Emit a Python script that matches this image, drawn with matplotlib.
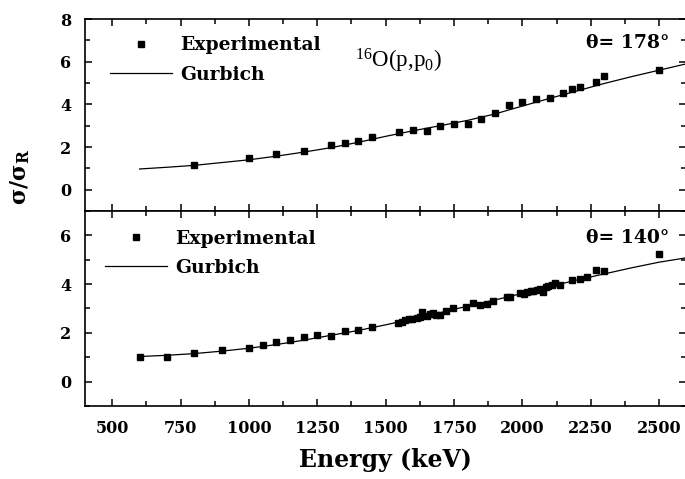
import numpy as np
import matplotlib
matplotlib.use("Agg")
import matplotlib.pyplot as plt
from matplotlib.ticker import MultipleLocator

plt.rcParams['font.family'] = 'DejaVu Serif'
plt.rcParams['font.weight'] = 'bold'
plt.rcParams['mathtext.fontset'] = 'custom'
plt.rcParams['mathtext.rm'] = 'Liberation Serif:weight=normal'
plt.rcParams['mathtext.it'] = 'Liberation Serif:italic:weight=normal'
plt.rcParams['mathtext.bf'] = 'DejaVu Serif:bold'

# theta = 178 deg, measured ratio to Rutherford
E_178 = [800, 1000, 1100, 1200, 1300, 1350, 1400, 1450, 1550, 1600, 1650,
         1700, 1750, 1800, 1850, 1900, 1950, 2000, 2050, 2100, 2150, 2180,
         2210, 2270, 2300, 2500]
R_178 = [1.16, 1.48, 1.65, 1.80, 2.08, 2.17, 2.27, 2.45, 2.70, 2.78, 2.74,
         2.98, 3.10, 3.08, 3.32, 3.60, 3.95, 4.09, 4.24, 4.32, 4.52, 4.72,
         4.83, 5.03, 5.34, 5.63]

# theta = 140 deg, measured ratio to Rutherford
E_140 = [600, 700, 800, 900, 1000, 1050, 1100, 1150, 1200, 1250, 1300, 1350,
         1400, 1450, 1546, 1560, 1571, 1585, 1597, 1614, 1625, 1633, 1651,
         1662, 1673, 1685, 1700, 1722, 1745, 1795, 1820, 1845, 1870, 1893,
         1944, 1955, 1992, 2005, 2017, 2030, 2040, 2055, 2065, 2077, 2085,
         2095, 2108, 2120, 2138, 2182, 2211, 2237, 2270, 2299, 2500]
R_140 = [0.99, 1.03, 1.16, 1.28, 1.36, 1.49, 1.61, 1.69, 1.82, 1.90, 1.87, 2.07,
         2.10, 2.23, 2.42, 2.46, 2.52, 2.55, 2.56, 2.59, 2.66, 2.84, 2.70,
         2.76, 2.80, 2.74, 2.73, 2.90, 3.00, 3.07, 3.22, 3.14, 3.20, 3.32,
         3.46, 3.48, 3.62, 3.60, 3.66, 3.70, 3.73, 3.76, 3.80, 3.66, 3.90,
         3.94, 3.97, 4.04, 3.98, 4.17, 4.21, 4.29, 4.56, 4.53, 5.22]

# Gurbich evaluated cross sections
E_calc = [600, 700, 800, 900, 1000, 1100, 1200, 1300, 1400, 1500, 1600,
          1700, 1800, 1900, 2000, 2100, 2200, 2300, 2400, 2500, 2600]
calc_178 = [0.97, 1.05, 1.14, 1.27, 1.40, 1.57, 1.76, 1.97, 2.22, 2.50, 2.76,
            3.00, 3.25, 3.55, 3.92, 4.28, 4.63, 4.98, 5.30, 5.60, 5.90]
calc_140 = [1.03, 1.08, 1.15, 1.25, 1.37, 1.52, 1.70, 1.90, 2.10, 2.33, 2.58,
            2.83, 3.10, 3.35, 3.62, 3.90, 4.17, 4.42, 4.67, 4.90, 5.08]

x_ticks = [500, 750, 1000, 1250, 1500, 1750, 2000, 2250, 2500]

fig = plt.figure(figsize=(6.85, 4.79), dpi=100)
ax1 = fig.add_axes([0.124, 0.5595, 0.878, 0.4008])
ax2 = fig.add_axes([0.124, 0.1524, 0.878, 0.4071])


def style_axis(ax, ylim, yticks, bottom_labels):
    ax.set_xlim(400, 2600)
    ax.set_ylim(*ylim)
    ax.set_xticks(x_ticks)
    ax.xaxis.set_minor_locator(MultipleLocator(125))
    ax.set_yticks(yticks)
    ax.yaxis.set_minor_locator(MultipleLocator(1))
    for s in ax.spines.values():
        s.set_linewidth(1.2)
    ax.tick_params(which='both', top=True, right=True, width=1.1,
                   labelsize=11.5)
    ax.tick_params(which='major', length=5)
    ax.tick_params(which='minor', length=3.5)
    ax.tick_params(axis='y', which='both', left=True, direction='out')
    ax.tick_params(axis='y', which='both', right=True, direction='in')
    ax.tick_params(axis='y', which='major', pad=10)
    ax.tick_params(axis='x', which='both', direction='out')
    ax.tick_params(axis='x', which='both', top=True, direction='in')
    ax.tick_params(axis='x', which='major', pad=10)
    if not bottom_labels:
        ax.tick_params(axis='x', labelbottom=False)
    for lab in ax.get_xticklabels() + ax.get_yticklabels():
        lab.set_fontweight('bold')


def draw(ax, E_exp, R_exp, R_calc, angle, leg_anchor):
    ax.plot(E_exp, R_exp, 's', color='black', markersize=4.2,
            label='Experimental')
    ax.plot(E_calc, R_calc, '-', color='black', linewidth=0.9,
            label='Gurbich')
    ax.legend(loc='upper left', bbox_to_anchor=leg_anchor, frameon=False,
              numpoints=1, handlelength=3.3, handletextpad=0.45,
              borderaxespad=0, borderpad=0, labelspacing=0.6,
              prop={'size': 13.5, 'weight': 'bold', 'family': 'DejaVu Serif'})
    ax.text(0.971, 0.875 if angle == 178 else 0.862,
            u"θ= %d°" % angle, transform=ax.transAxes,
            ha='right', va='center', fontsize=13.5, fontweight='bold')


draw(ax1, E_178, R_178, calc_178, 178, (0.042, 0.91))
draw(ax2, E_140, R_140, calc_140, 140, (0.033, 0.905))

style_axis(ax1, (-1, 8), [0, 2, 4, 6, 8], False)
style_axis(ax2, (-1, 7), [0, 2, 4, 6], True)

ax1.text(0.449, 0.745, r'$^{\mathrm{16}}$O(p,p$_{\mathrm{0}}$)',
         transform=ax1.transAxes, ha='left', va='baseline', fontsize=16.5,
         fontweight='normal', family='Liberation Serif')

ax2.set_xlabel('Energy (keV)', fontsize=17, fontweight='bold', labelpad=8)
fig.text(0.03, 0.63, r'$\mathbf{\sigma/\sigma_R}$', rotation=90,
         ha='center', va='center', fontsize=16)

plt.savefig('out.png', dpi=100)
